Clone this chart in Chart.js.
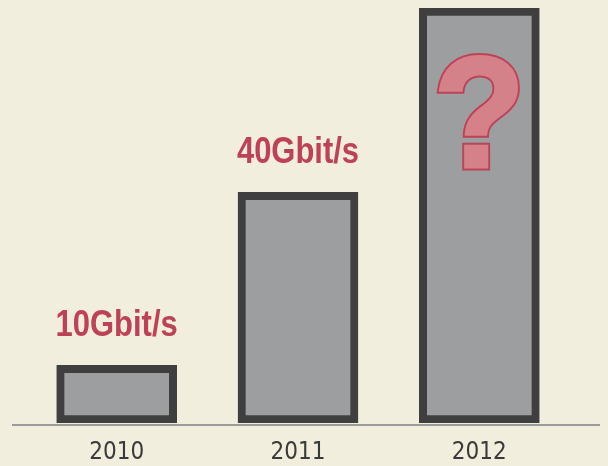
<!DOCTYPE html>
<html>
<head>
<meta charset="utf-8">
<script src="https://cdn.jsdelivr.net/npm/chart.js@4/dist/chart.umd.min.js"></script>
<style>
  html,body{margin:0;padding:0;background:#f2eedd;}
  #wrap{width:608px;height:466px;}
</style>
</head>
<body>
<div id="wrap"><canvas id="chart"></canvas></div>
<script>
const years = ['2010', '2011', '2012'];
const speeds = [10, 40, 72];          // 2012 unknown, drawn tall with a "?"
const speedLabels = ['10Gbit/s', '40Gbit/s', null];

const red = '#be4257';
const pink = '#d5818a';

// labels above bars, question mark inside the unknown one, baseline under all
const decor = {
  id: 'decor',
  beforeDatasetsDraw(chart){
    const {ctx, chartArea} = chart;
    ctx.save();
    ctx.strokeStyle = '#9b9b9b'; ctx.lineWidth = 2;
    ctx.beginPath();
    ctx.moveTo(chartArea.left - 14, chartArea.bottom + 2);
    ctx.lineTo(chartArea.right + 30, chartArea.bottom + 2);
    ctx.stroke();
    ctx.restore();
  },
  afterDatasetsDraw(chart){
    const {ctx} = chart;
    const meta = chart.getDatasetMeta(0);
    meta.data.forEach((el, i)=>{
      const txt = speedLabels[i];
      ctx.save();
      ctx.textAlign = 'center'; ctx.textBaseline = 'alphabetic';
      if(txt){
        ctx.translate(el.x, el.y - 29);
        ctx.scale(0.86, 1);
        ctx.font = "bold 36px 'Liberation Sans',Arial,sans-serif";
        ctx.fillStyle = red;
        ctx.fillText(txt, 0, 0);
      } else {
        ctx.translate(el.x, el.y + 159);
        ctx.scale(0.95, 1);
        ctx.font = "bold 158px 'Liberation Sans',Arial,sans-serif";
        ctx.lineJoin = 'miter';
        ctx.strokeStyle = red; ctx.lineWidth = 7;
        ctx.strokeText('?', 0, 0);
        ctx.strokeStyle = pink; ctx.lineWidth = 3;
        ctx.strokeText('?', 0, 0);
        ctx.fillStyle = pink;
        ctx.fillText('?', 0, 0);
      }
      ctx.restore();
    });
  }
};

new Chart(document.getElementById('chart'), {
  type: 'bar',
  data: {
    labels: years,
    datasets: [{
      data: speeds,
      backgroundColor: '#9d9ea0',
      borderColor: '#3f3f3f',
      borderWidth: 8,
      borderSkipped: false,
      barThickness: 120
    }]
  },
  options: {
    responsive: true,
    maintainAspectRatio: false,
    animation: false,
    layout: {padding: {left: 26, right: 38, top: 8, bottom: 0}},
    plugins: {legend: {display: false}, tooltip: {enabled: false}},
    scales: {
      x: {
        grid: {display: false, drawTicks: false},
        border: {display: false},
        ticks: {color: '#3a3a3a', padding: 15, font: {family: "'DejaVu Sans Condensed',sans-serif", size: 24}},
        afterFit(scale){ scale.height = 43; }
      },
      y: {display: false, min: 0, max: 72}
    }
  },
  plugins: [decor]
});
</script>
</body>
</html>
